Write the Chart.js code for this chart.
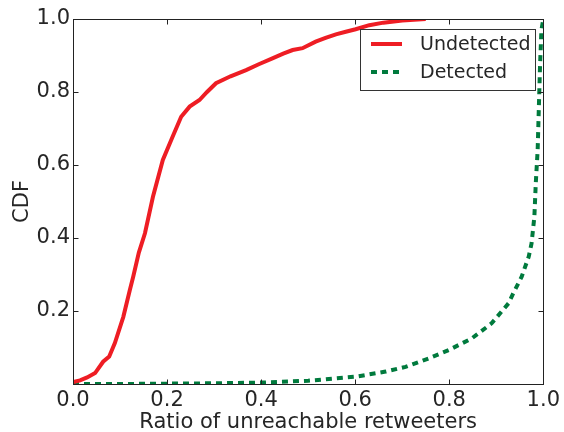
<!DOCTYPE html>
<html lang="en">

<head>
    <meta charset="UTF-8">
    <title>CDF of unreachable retweeters</title>
    <style>
        body {
            margin: 0;
            background: #fff;
        }

        #wrap {
            width: 564px;
            height: 432px;
        }
    </style>
    <script src="https://cdn.jsdelivr.net/npm/chart.js"></script>
</head>

<body>
    <div id="wrap"><canvas id="cdfChart" width="564" height="432"></canvas></div>

    <script>
        // values
        const undetectedX = [0, 0.015, 0.03, 0.047, 0.064, 0.077, 0.089, 0.107, 0.121, 0.128, 0.14, 0.153, 0.170, 0.191, 0.212, 0.230, 0.248, 0.269, 0.285, 0.304, 0.335, 0.368, 0.395, 0.424, 0.447, 0.467, 0.488, 0.516, 0.537, 0.559, 0.58, 0.601, 0.63, 0.66, 0.7, 0.75];
        const undetectedY = [0.005, 0.01, 0.018, 0.03, 0.061, 0.075, 0.112, 0.184, 0.258, 0.294, 0.36, 0.413, 0.513, 0.614, 0.678, 0.732, 0.760, 0.778, 0.80, 0.824, 0.843, 0.860, 0.876, 0.892, 0.905, 0.915, 0.92, 0.938, 0.948, 0.958, 0.965, 0.972, 0.983, 0.99, 0.996, 1.0];

        const detectedX = [0, 0.1, 0.2, 0.3, 0.403, 0.5, 0.601, 0.665, 0.707, 0.756, 0.799, 0.848, 0.890, 0.926, 0.936, 0.954, 0.969, 0.975, 0.981, 0.984, 0.988, 0.991, 0.993, 0.996, 1.0];
        const detectedY = [0, 0, 0.001, 0.002, 0.004, 0.009, 0.02, 0.034, 0.047, 0.07, 0.093, 0.125, 0.166, 0.221, 0.248, 0.294, 0.349, 0.385, 0.458, 0.55, 0.641, 0.778, 0.87, 0.97, 1.0];

        const xTicks = [0.0, 0.2, 0.4, 0.6, 0.8, 1.0];
        const yTicks = [0.2, 0.4, 0.6, 0.8, 1.0];

        const toPoints = (xs, ys) => xs.map((x, i) => ({ x: x, y: ys[i] }));

        const FONT = 'DejaVu Sans';
        const TEXT = '#262626';

        // frame, inward ticks and legend box like the original figure
        const framePlugin = {
            id: 'frame',
            afterDatasetsDraw(chart) {
                const ctx = chart.ctx;
                const a = chart.chartArea;
                const xs = chart.scales.x;
                const ys = chart.scales.y;
                const L = Math.round(a.left) + 0.5, R = Math.round(a.right) + 0.5;
                const T = Math.round(a.top) + 0.5, B = Math.round(a.bottom) + 0.5;
                ctx.save();
                ctx.strokeStyle = '#222';
                ctx.lineWidth = 1;
                ctx.strokeRect(L, T, R - L, B - T);
                ctx.beginPath();
                xTicks.forEach(v => {
                    const px = Math.round(xs.getPixelForValue(v)) + 0.5;
                    ctx.moveTo(px, B); ctx.lineTo(px, B - 5);
                    ctx.moveTo(px, T); ctx.lineTo(px, T + 5);
                });
                yTicks.forEach(v => {
                    const py = Math.round(ys.getPixelForValue(v)) + 0.5;
                    ctx.moveTo(L, py); ctx.lineTo(L + 5, py);
                    ctx.moveTo(R, py); ctx.lineTo(R - 5, py);
                });
                ctx.stroke();

                // legend
                const bx = 360.5, by = 29.5, bw = 175, bh = 61;
                ctx.fillStyle = '#fff';
                ctx.fillRect(bx, by, bw, bh);
                ctx.strokeStyle = '#333';
                ctx.strokeRect(bx, by, bw, bh);
                ctx.font = '19px ' + FONT;
                ctx.textBaseline = 'middle';
                ctx.textAlign = 'left';
                chart.data.datasets.forEach((ds, i) => {
                    const ly = 44 + i * 28;
                    ctx.beginPath();
                    ctx.strokeStyle = ds.borderColor;
                    ctx.lineWidth = ds.borderWidth;
                    ctx.setLineDash(ds.borderDash || []);
                    ctx.moveTo(371, ly); ctx.lineTo(402, ly);
                    ctx.stroke();
                    ctx.setLineDash([]);
                    ctx.fillStyle = TEXT;
                    ctx.fillText(ds.label, 420, ly + 1);
                });
                ctx.restore();
            }
        };

        new Chart(document.getElementById('cdfChart').getContext('2d'), {
            type: 'line',
            data: {
                datasets: [{
                    label: 'Undetected',
                    data: toPoints(undetectedX, undetectedY),
                    borderColor: '#ee1d24',
                    borderWidth: 4,
                    pointRadius: 0,
                    tension: 0,
                    fill: false
                }, {
                    label: 'Detected',
                    data: toPoints(detectedX, detectedY),
                    borderColor: '#007a3d',
                    borderWidth: 4,
                    borderDash: [6, 5],
                    borderCapStyle: 'butt',
                    pointRadius: 0,
                    tension: 0,
                    fill: false
                }]
            },
            options: {
                responsive: false,
                animation: false,
                layout: { autoPadding: false, padding: { top: 19, right: 19, left: 0, bottom: 0 } },
                plugins: {
                    legend: { display: false },
                    tooltip: { enabled: false }
                },
                scales: {
                    x: {
                        type: 'linear',
                        min: 0,
                        max: 1,
                        afterBuildTicks: s => { s.ticks = xTicks.map(v => ({ value: v })); },
                        afterFit: s => { s.height = 48; },
                        grid: { display: false, drawTicks: false },
                        border: { display: false },
                        ticks: {
                            padding: 4,
                            color: TEXT,
                            font: { family: FONT, size: 21 },
                            callback: v => v.toFixed(1)
                        },
                        title: {
                            display: true,
                            text: 'Ratio of unreachable retweeters',
                            color: TEXT,
                            font: { family: FONT, size: 21, lineHeight: 0.9 },
                            padding: { top: 0, bottom: 0 }
                        }
                    },
                    y: {
                        type: 'linear',
                        min: 0,
                        max: 1,
                        afterBuildTicks: s => { s.ticks = yTicks.map(v => ({ value: v })); },
                        afterFit: s => { s.width = 73; },
                        grid: { display: false, drawTicks: false },
                        border: { display: false },
                        ticks: {
                            padding: 3,
                            color: TEXT,
                            font: { family: FONT, size: 21 },
                            callback: v => v.toFixed(1)
                        },
                        title: {
                            display: true,
                            text: 'CDF',
                            color: TEXT,
                            font: { family: FONT, size: 21 },
                            padding: { top: 10, bottom: 0 }
                        }
                    }
                }
            },
            plugins: [framePlugin]
        });
    </script>
</body>

</html>
